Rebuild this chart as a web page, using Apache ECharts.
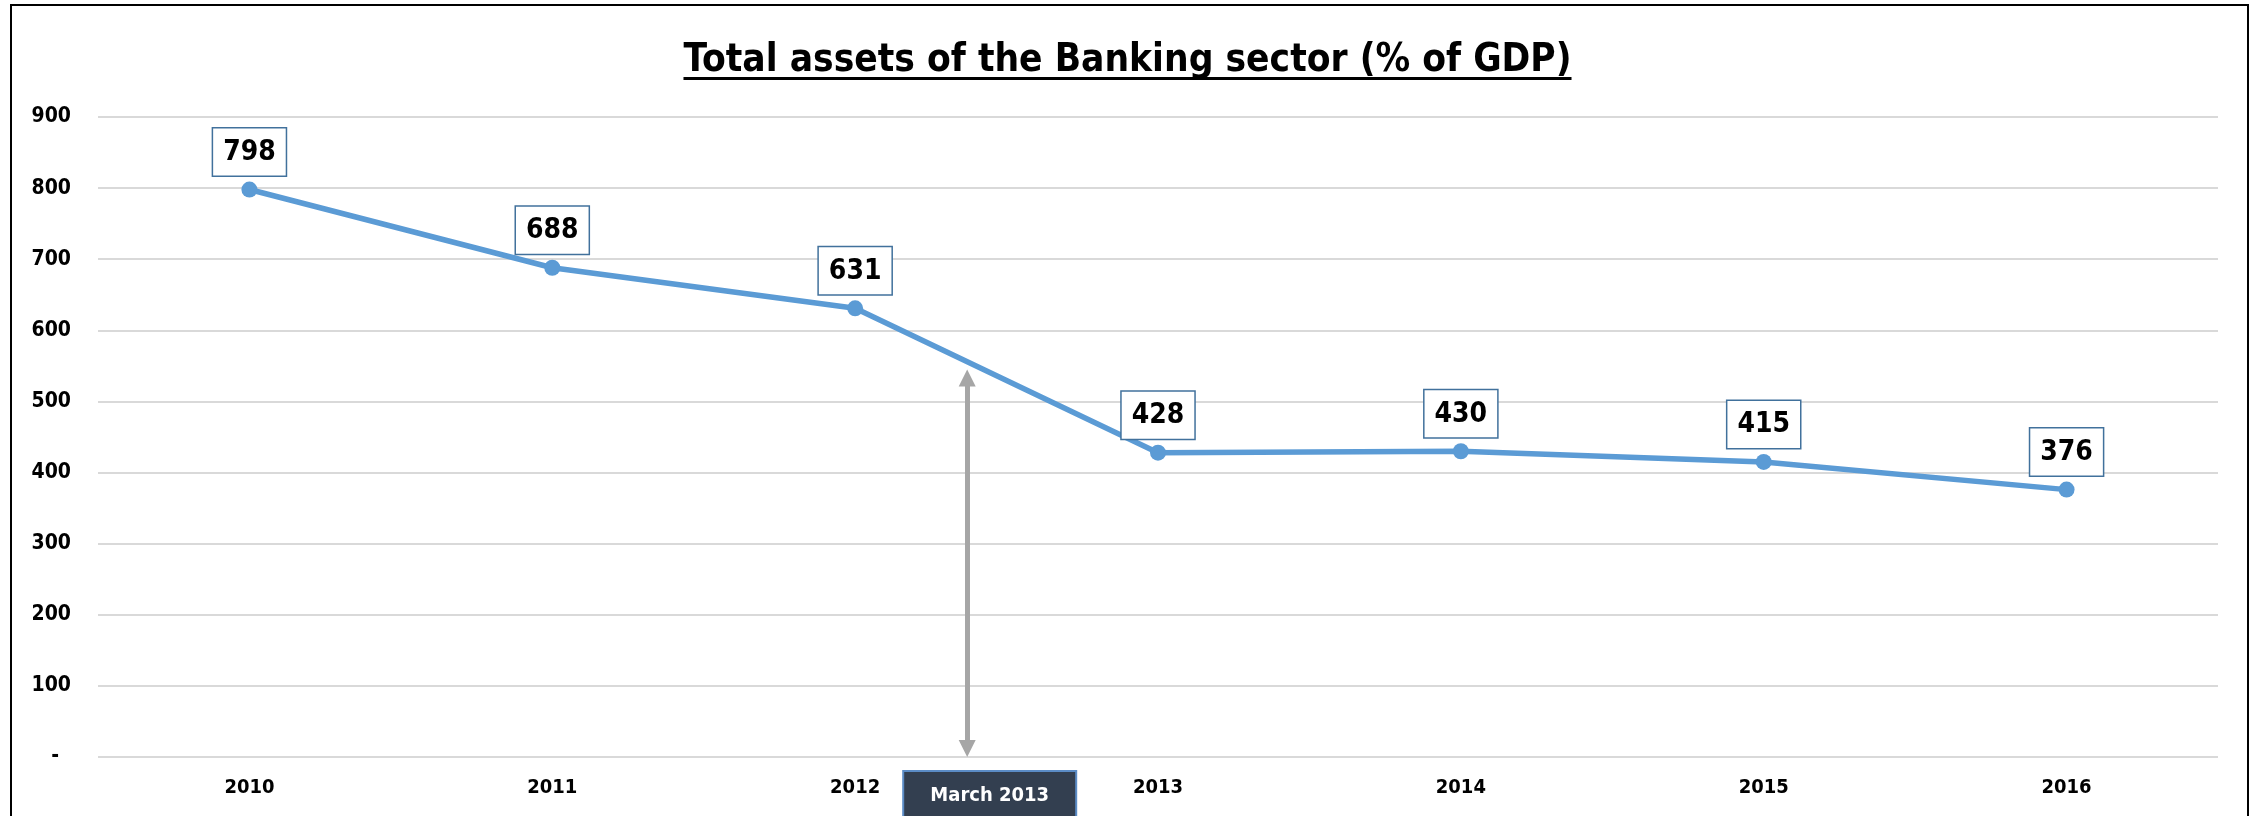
<!DOCTYPE html>
<html>
<head>
<meta charset="utf-8">
<script src="https://cdn.jsdelivr.net/npm/echarts@6/dist/echarts.min.js"></script>
<style>
html,body{margin:0;padding:0;background:#fff;}
#chart{width:2255px;height:816px;}
</style>
</head>
<body>
<div id="chart"></div>
<script>
// ---- data ----
const years = ['2010', '2011', '2012', '2013', '2014', '2015', '2016'];
const assets = [798, 688, 631, 428, 430, 415, 376];
const yMin = 0, yMax = 900, yInterval = 100;
const titleText = 'Total assets of the Banking sector (% of GDP)';
const eventLabel = 'March 2013';
const eventX = 2.37;      // position between 2012 and 2013 categories
const eventTop = 545;     // top of the double arrow (value units)

const FONT = '"DejaVu Sans Condensed", "DejaVu Sans", sans-serif';
const ARROW = 17;

const chart = echarts.init(document.getElementById('chart'), null, {renderer: 'canvas'});

const option = {
  backgroundColor: '#fff',
  animation: false,
  title: {
    text: titleText,
    left: 'center',
    top: 36,
    textStyle: {fontFamily: FONT, fontSize: 38.5, fontWeight: 'bold', color: '#000'}
  },
  grid: {left: 98, right: 37, top: 117, bottom: 59, containLabel: false},
  xAxis: [
    {
      type: 'category',
      data: years,
      boundaryGap: true,
      axisLine: {show: false},
      axisTick: {show: false},
      axisLabel: {fontFamily: FONT, fontSize: 20, fontWeight: 'bold', color: '#000', margin: 21}
    },
    {
      type: 'value', min: -0.5, max: 6.5, show: false
    }
  ],
  yAxis: {
    type: 'value',
    min: yMin, max: yMax, interval: yInterval,
    axisLine: {show: false},
    axisTick: {show: false},
    splitLine: {show: true, lineStyle: {color: '#D9D9D9', width: 2}},
    axisLabel: {
      fontFamily: FONT, fontSize: 21, fontWeight: 'bold', color: '#000', margin: 27,
      formatter: v => v === 0 ? '{d|-}' : String(v),
      rich: {d: {fontFamily: FONT, fontSize: 21, fontWeight: 'bold', color: '#000', padding: [0, 12, 0, 0]}}
    }
  },
  series: [
    {
      type: 'line',
      data: assets,
      xAxisIndex: 0,
      symbol: 'circle',
      symbolSize: 16,
      lineStyle: {color: '#5B9BD5', width: 5.5},
      itemStyle: {color: '#5B9BD5'},
      label: {
        show: true,
        position: 'top',
        distance: 6,
        fontFamily: FONT, fontSize: 28, fontWeight: 'bold', color: '#000',
        backgroundColor: '#fff',
        borderColor: '#41719C', borderWidth: 1.5,
        padding: [10, 10, 9, 10]
      },
      z: 3
    },
    {
      type: 'line',
      xAxisIndex: 1,
      data: [],
      silent: true,
      z: 2
    }
  ]
};
chart.setOption(option);

// arrow: tips exactly at 0 and eventTop (symbol centred on endpoint, so inset by half its height)
const p0 = chart.convertToPixel({yAxisIndex: 0}, 0);
const p100 = chart.convertToPixel({yAxisIndex: 0}, 100);
const inset = (ARROW / 2) / ((p0 - p100) / 100);

// decorations: outer frame, title underline, event annotation box
const ctx = document.createElement('canvas').getContext('2d');
ctx.font = 'bold 38.5px ' + FONT;
const tw = ctx.measureText(titleText).width;
const cx = 2255 / 2;
const px = chart.convertToPixel({xAxisIndex: 1}, eventX);

chart.setOption({
  series: [{}, {
    markLine: {
      silent: true,
      symbol: ['triangle', 'triangle'],
      symbolSize: [ARROW, ARROW],
      label: {show: false},
      lineStyle: {color: '#A6A6A6', width: 5, type: 'solid'},
      data: [[{coord: [eventX, 0 + inset]}, {coord: [eventX, eventTop - inset]}]]
    }
  }],
  graphic: [
    {type: 'rect', shape: {x: 11, y: 5, width: 2237, height: 830}, style: {fill: 'none', stroke: '#000', lineWidth: 2}, silent: true, z: 0},
    {type: 'rect', shape: {x: cx - tw / 2, y: 77, width: tw, height: 3}, style: {fill: '#000'}, silent: true},
    {type: 'rect', shape: {x: px - 64, y: p0 + 14, width: 173, height: 80}, style: {fill: '#333F50', stroke: '#5B8CC6', lineWidth: 2}, silent: true, z: 10},
    {type: 'text', x: px + 22.5, y: p0 + 39, style: {text: eventLabel, fill: '#fff', font: 'bold 20px ' + FONT, textAlign: 'center', textVerticalAlign: 'middle'}, silent: true, z: 11}
  ]
});
</script>
</body>
</html>
